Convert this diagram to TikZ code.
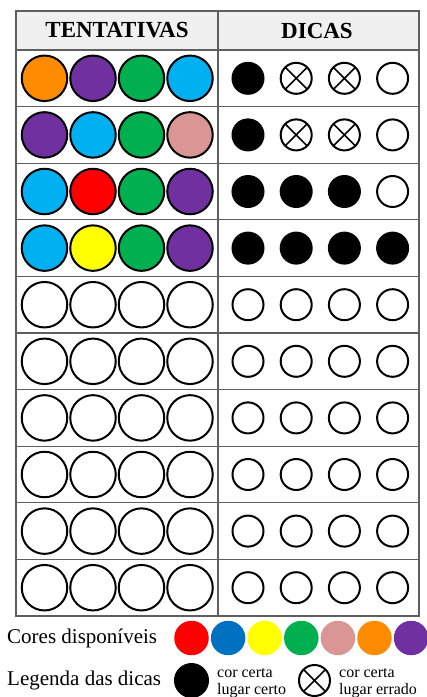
\documentclass[tikz,border=0pt]{standalone}
\usepackage{fontspec}
\setmainfont{Liberation Serif}
\usetikzlibrary{positioning}
\definecolor{pegorange}{HTML}{FF8C00}
\definecolor{pegpurple}{HTML}{7030A0}
\definecolor{peggreen}{HTML}{00B050}
\definecolor{pegcyan}{HTML}{00B0F0}
\definecolor{pegpink}{HTML}{D99694}
\definecolor{pegred}{HTML}{FF0000}
\definecolor{pegyellow}{HTML}{FFFF00}
\definecolor{pegblue}{HTML}{0070C0}
\definecolor{gridgray}{HTML}{5F5F5F}
\definecolor{headgray}{HTML}{F0F0F0}
\tikzset{
  grid/.style={draw=gridgray, line width=1.3pt},
  head/.style={font=\fontsize{23}{26}\selectfont\bfseries},
  peg/.style={
    circle,
    draw=black,
    line width=2pt,
    minimum size=45.5pt,
    inner sep=0pt
  },
  hint/.style={
    circle,
    draw=black,
    line width=2pt,
    minimum size=31pt,
    inner sep=0pt,
    fill=white
  },
  hit/.style={hint, fill=black},
  miss/.style={hint},
  near/.style={
    hint,
    path picture={
      \draw[line width=1.6pt]
        (path picture bounding box.north west) -- (path picture bounding box.south east)
        (path picture bounding box.north east) -- (path picture bounding box.south west);
    }
  },
  swatch/.style={circle, minimum size=34.5pt, inner sep=0pt},
  legendtext/.style={font=\fontsize{21}{24}\selectfont, anchor=west, inner sep=0pt},
  note/.style={font=\fontsize{16}{17}\selectfont, align=left, anchor=west, inner sep=0pt}
}

\begin{document}
\begin{tikzpicture}[x=1pt, y=-1pt]
  \useasboundingbox[fill=white] (0,0) rectangle (427,697);

  % board
  \fill[headgray] (16,11) rectangle (419,50);
  \foreach \r in {0,...,9}
    \draw[grid] (16,{50+56.6*\r}) -- (419,{50+56.6*\r});
  \draw[grid] (218,11) -- (218,616);
  \draw[grid] (16,11) rectangle (419,616);

  \node[head] (tentativas) at (117,30.5) {TENTATIVAS};
  \node[head] (dicas) at (317,30.5) {DICAS};

  % guesses and hints, row by row
  \foreach \r/\cols/\hints in {
      1/{pegorange,pegpurple,peggreen,pegcyan}/{hit,near,near,miss},
      2/{pegpurple,pegcyan,peggreen,pegpink}/{hit,near,near,miss},
      3/{pegcyan,pegred,peggreen,pegpurple}/{hit,hit,hit,miss},
      4/{pegcyan,pegyellow,peggreen,pegpurple}/{hit,hit,hit,hit},
      5/{white,white,white,white}/{miss,miss,miss,miss},
      6/{white,white,white,white}/{miss,miss,miss,miss},
      7/{white,white,white,white}/{miss,miss,miss,miss},
      8/{white,white,white,white}/{miss,miss,miss,miss},
      9/{white,white,white,white}/{miss,miss,miss,miss},
      10/{white,white,white,white}/{miss,miss,miss,miss}} {
    \foreach \c [count=\i] in \cols
      \node[peg, fill=\c] (g-\r-\i) at ({44.5+48.5*(\i-1)},{50+56.6*(\r-0.5)}) {};
    \foreach \h [count=\i] in \hints
      \node[\h] (h-\r-\i) at ({248+48.2*(\i-1)},{50+56.6*(\r-0.5)}) {};
  }

  % legend
  \node[legendtext] (cores) at (7,638) {Cores disponíveis};
  \foreach \c [count=\i] in {pegred,pegblue,pegyellow,peggreen,pegpink,pegorange,pegpurple}
    \node[swatch, fill=\c] (s-\i) at ({191.5+36.6*(\i-1)},638) {};

  \node[legendtext] (legenda) at (7,680.5) {Legenda das dicas};
  \node[hit, minimum size=33pt] (keyhit) at (191.5,680.5) {};
  \node[note] (hittext) at (217,683) {cor certa\\lugar certo};
  \node[near] (keynear) at (314.5,680.5) {};
  \node[note] (neartext) at (339,683) {cor certa\\lugar errado};
\end{tikzpicture}
\end{document}
